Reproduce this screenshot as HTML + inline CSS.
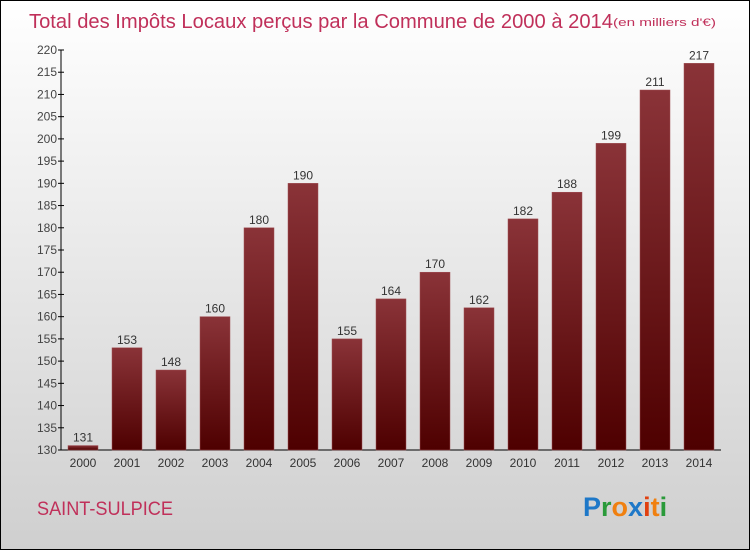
<!DOCTYPE html>
<html><head><meta charset="utf-8"><style>
body{margin:0}
#c{width:748px;height:548px;border:1px solid #000;background:linear-gradient(#fff,#cfcfcf);position:relative;overflow:hidden;font-family:"Liberation Sans",sans-serif}
</style></head><body>
<div id="c">
<svg id="s" width="748" height="548" style="position:absolute;left:0;top:0">
<text x="28" y="27" font-size="20" fill="#c0305a" textLength="584" lengthAdjust="spacingAndGlyphs">Total des Impôts Locaux perçus par la Commune de 2000 à 2014</text>
<text x="612" y="25" font-size="11" fill="#c0305a" textLength="103" lengthAdjust="spacingAndGlyphs">(en milliers d'€)</text>
<text x="36" y="514" font-size="19" fill="#c0305a" textLength="136" lengthAdjust="spacingAndGlyphs">SAINT-SULPICE</text>
<g font-size="27" font-weight="bold" font-family="Liberation Sans, sans-serif">
<text x="582" y="515"><tspan fill="#1e78c8">P</tspan><tspan fill="#2a9a3a">r</tspan><tspan fill="#f08010">o</tspan><tspan fill="#1e78c8">x</tspan><tspan fill="#e04010">i</tspan><tspan fill="#f08010">t</tspan><tspan fill="#2a9a3a">i</tspan></text>
</g>
<defs><linearGradient id="g" x1="0" y1="0" x2="0" y2="1"><stop offset="0" stop-color="#8a3338"/><stop offset="1" stop-color="#4e0000"/></linearGradient></defs>
<g id="axes"></g><g id="bars"></g>
</svg>
</div>
<script>
const years=["2000","2001","2002","2003","2004","2005","2006","2007","2008","2009","2010","2011","2012","2013","2014"];
const values=[131,153,148,160,180,190,155,164,170,162,182,188,199,211,217];
const yTicks=[130,135,140,145,150,155,160,165,170,175,180,185,190,195,200,205,210,215,220];
const NS="http://www.w3.org/2000/svg";
const y0=449,y1=49,vmin=130,vmax=220,x0=60,step=44;
function yS(v){return y0-(v-vmin)/(vmax-vmin)*(y0-y1);}
function xS(i){return x0+22+i*step;}
const ax=document.getElementById('axes'),bs=document.getElementById('bars');
function el(t,a,p){const e=document.createElementNS(NS,t);for(const k in a)e.setAttribute(k,a[k]);p.appendChild(e);return e;}
const yl=el('line',{x1:x0,y1:y1,x2:x0,y2:y0,stroke:'#000'},ax);


const xl=el('line',{x1:x0,y1:y0,x2:720,y2:y0,stroke:'#000'},ax);


yTicks.forEach(v=>{
 el('line',{x1:x0-3,x2:x0+3,y1:yS(v),y2:yS(v),stroke:'#000'},ax);
 const t=el('text',{x:x0-4,y:yS(v)+4,'text-anchor':'end','font-size':12,fill:'#444'},ax);
 t.textContent=v;
 
 
});
years.forEach((yr,i)=>{
 const v=values[i],cx=xS(i),top=yS(v);
 const r=el('rect',{x:cx-15,y:top,width:30,height:y0-top,fill:'url(#g)',stroke:'#a05055','stroke-width':0.5},bs);
 
 
 const l=el('text',{x:cx,y:top-4,'text-anchor':'middle','font-size':12,fill:'#333'},bs);
 l.textContent=v;
 
 
 const xt=el('text',{x:cx,y:466,'text-anchor':'middle','font-size':12,fill:'#333'},ax);
 xt.textContent=yr;
 
 
});
</script>
</body></html>
